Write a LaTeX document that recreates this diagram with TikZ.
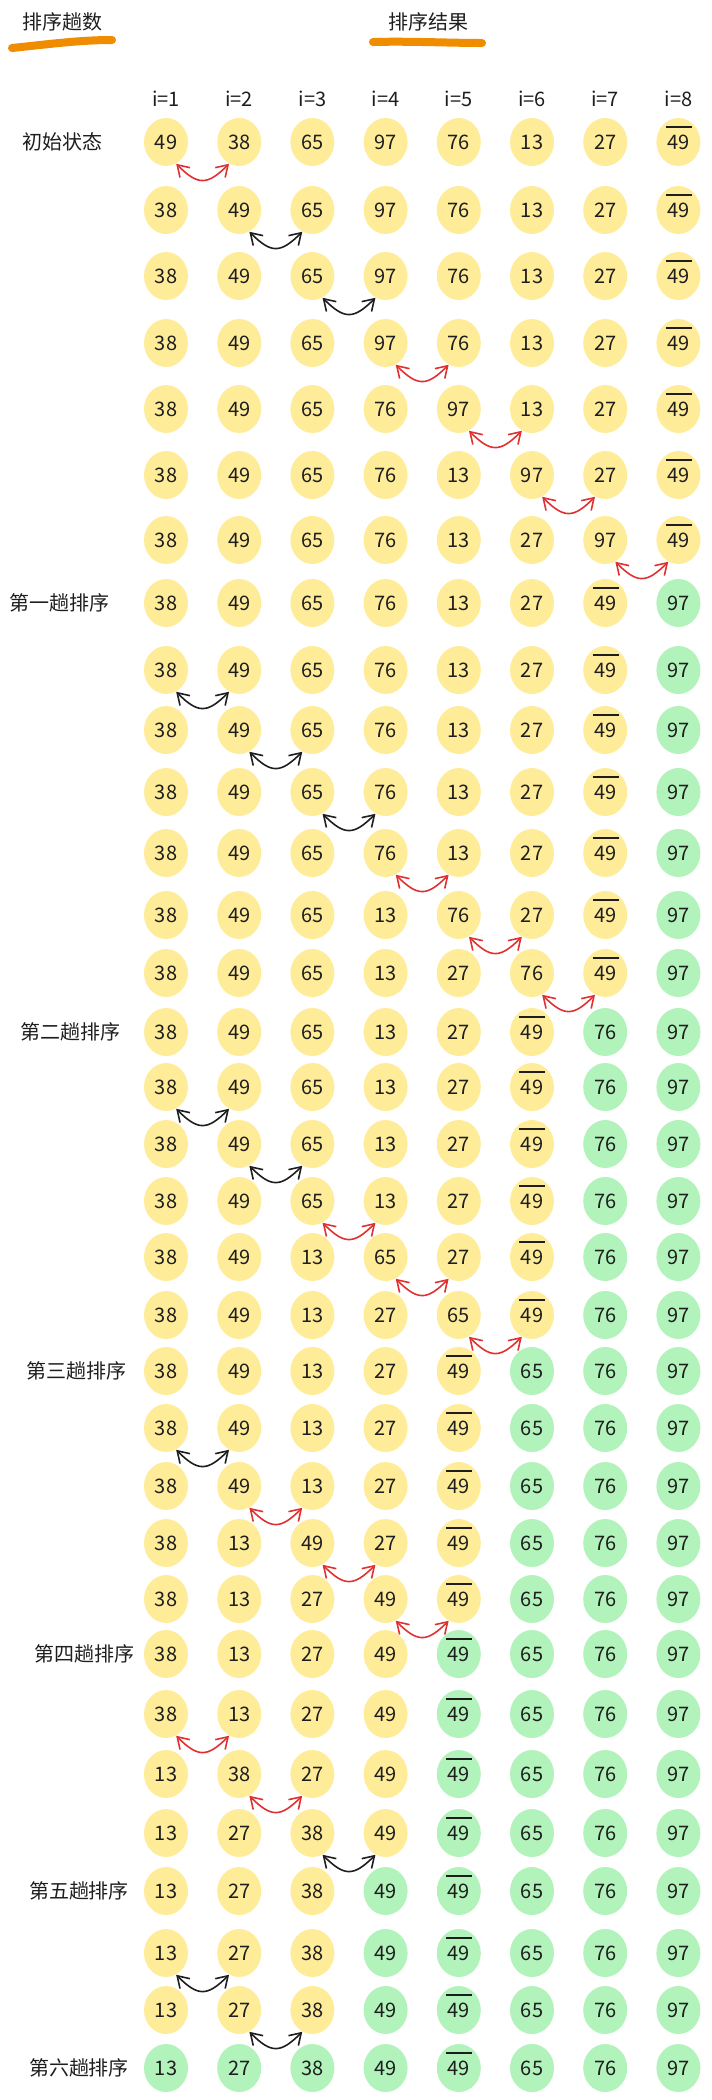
\documentclass[tikz,border=0pt]{standalone}
\usepackage{fontspec}
\setmainfont{Noto Sans CJK SC}
\usepackage{tikz}
\usetikzlibrary{arrows.meta,shapes.geometric}
\definecolor{todofill}{HTML}{FFEC99}
\definecolor{donefill}{HTML}{B2F2BB}
\definecolor{markorange}{HTML}{F08C00}
\definecolor{swapred}{HTML}{E03131}
\definecolor{inkblack}{HTML}{1E1E1E}
\newcommand{\dupval}{\smash{\rlap{\kern-0.8pt\raisebox{10.8pt}{\rule{13pt}{0.6pt}}}}49}

\begin{document}
\begin{tikzpicture}[x=0.5pt, y=-0.5pt, >={Straight Barb[length=5.5pt,width=7pt]},
  cell/.style={ellipse, minimum width=22pt, minimum height=24pt, inner sep=0pt, font=\fontsize{10}{12}\selectfont, text=inkblack},
  todo/.style={cell, fill=todofill},
  sorted/.style={cell, fill=donefill},
  xchg/.style={<->, line width=0.8pt, out=-45, in=-135, looseness=1.5},
  swapped/.style={xchg, draw=swapred},
  kept/.style={xchg, draw=inkblack},
  pass/.style={font=\fontsize{10}{12}\selectfont, text=inkblack},
  hiline/.style={draw=markorange, line width=4pt, line cap=round}]
  \useasboundingbox (0,0) rectangle (712,2100);

  % headings
  \node[pass] (passhead) at (63,22) {排序趟数};
  \node[pass] (resulthead) at (428,22) {排序结果};
  \draw[hiline] (12,48) .. controls (50,44) and (80,40) .. (112,40);
  \draw[hiline] (373,42) .. controls (410,41) and (450,43) .. (482,43);
  \foreach \c in {1,...,8}
    \node[pass] (i\c) at ({166+73.2*(\c-1)},99) {i=\c};

  % pass labels
  \node[pass] (start) at (63,142) {初始状态};
  \node[pass] (pass1) at (60,603) {第一趟排序};
  \node[pass] (pass2) at (70,1032) {第二趟排序};
  \node[pass] (pass3) at (76,1371) {第三趟排序};
  \node[pass] (pass4) at (84,1654) {第四趟排序};
  \node[pass] (pass5) at (79,1891) {第五趟排序};
  \node[pass] (pass6) at (79,2068) {第六趟排序};

  % rows: y / sorted count / compared column / arrow style / values
  \foreach \y/\ng/\sw/\sc/\vals [count=\r] in {
    142/0/1/swapped/{49,38,65,97,76,13,27,\dupval},
    210/0/2/kept/{38,49,65,97,76,13,27,\dupval},
    276/0/3/kept/{38,49,65,97,76,13,27,\dupval},
    343/0/4/swapped/{38,49,65,97,76,13,27,\dupval},
    409/0/5/swapped/{38,49,65,76,97,13,27,\dupval},
    475/0/6/swapped/{38,49,65,76,13,97,27,\dupval},
    540/0/7/swapped/{38,49,65,76,13,27,97,\dupval},
    603/1/0/kept/{38,49,65,76,13,27,\dupval,97},
    670/1/1/kept/{38,49,65,76,13,27,\dupval,97},
    730/1/2/kept/{38,49,65,76,13,27,\dupval,97},
    792/1/3/kept/{38,49,65,76,13,27,\dupval,97},
    853/1/4/swapped/{38,49,65,76,13,27,\dupval,97},
    915/1/5/swapped/{38,49,65,13,76,27,\dupval,97},
    973/1/6/swapped/{38,49,65,13,27,76,\dupval,97},
    1032/2/0/kept/{38,49,65,13,27,\dupval,76,97},
    1087/2/1/kept/{38,49,65,13,27,\dupval,76,97},
    1144/2/2/kept/{38,49,65,13,27,\dupval,76,97},
    1201/2/3/swapped/{38,49,65,13,27,\dupval,76,97},
    1257/2/4/swapped/{38,49,13,65,27,\dupval,76,97},
    1315/2/5/swapped/{38,49,13,27,65,\dupval,76,97},
    1371/3/0/kept/{38,49,13,27,\dupval,65,76,97},
    1428/3/1/kept/{38,49,13,27,\dupval,65,76,97},
    1486/3/2/swapped/{38,49,13,27,\dupval,65,76,97},
    1543/3/3/swapped/{38,13,49,27,\dupval,65,76,97},
    1599/3/4/swapped/{38,13,27,49,\dupval,65,76,97},
    1654/4/0/kept/{38,13,27,49,\dupval,65,76,97},
    1714/4/1/swapped/{38,13,27,49,\dupval,65,76,97},
    1774/4/2/swapped/{13,38,27,49,\dupval,65,76,97},
    1833/4/3/kept/{13,27,38,49,\dupval,65,76,97},
    1891/5/0/kept/{13,27,38,49,\dupval,65,76,97},
    1953/5/1/kept/{13,27,38,49,\dupval,65,76,97},
    2010/5/2/kept/{13,27,38,49,\dupval,65,76,97},
    2068/8/0/kept/{13,27,38,49,\dupval,65,76,97}}{
    \foreach \v [count=\c] in \vals {
      \ifnum\c>\numexpr8-\ng\relax \def\st{sorted}\else\def\st{todo}\fi
      \node[\st] (n\r-\c) at ({166+73.2*(\c-1)},\y) {\v};
    }
    \ifnum\sw>0
      \pgfmathtruncatemacro\nx{\sw+1}
      \draw[\sc] (n\r-\sw.-65) to (n\r-\nx.-115);
    \fi
  }
\end{tikzpicture}
\end{document}
